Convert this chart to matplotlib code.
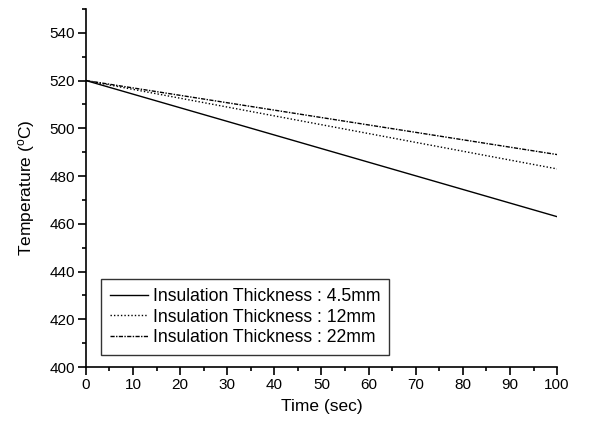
import matplotlib
matplotlib.use("Agg")
import matplotlib.pyplot as plt
from matplotlib.ticker import MultipleLocator

plt.rcParams['font.family'] = ['Liberation Sans', 'DejaVu Sans']
plt.rcParams['mathtext.default'] = 'regular'

time = [0, 20, 40, 60, 80, 100]
t_45mm = [520, 508.6, 497.2, 485.8, 474.4, 463]
t_12mm = [520, 512.6, 505.2, 497.8, 490.4, 483]
t_22mm = [520, 513.8, 507.6, 501.4, 495.2, 489]
labels = ["Insulation Thickness : 4.5mm",
          "Insulation Thickness : 12mm",
          "Insulation Thickness : 22mm"]

fig = plt.figure(figsize=(5.92, 4.22), dpi=100)
ax = fig.add_axes([0.145, 0.130, 0.796, 0.849])

ax.plot(time, t_45mm, color='black', lw=1.0, ls='-', label=labels[0])
ax.plot(time, t_12mm, color='black', lw=1.0, ls=(0, (1, 1.5)), label=labels[1])
ax.plot(time, t_22mm, color='black', lw=1.0, ls=(0, (3, 1, 1, 1)), label=labels[2])

ax.set_xlim(0, 100)
ax.set_ylim(400, 550)
ax.xaxis.set_major_locator(MultipleLocator(10))
ax.xaxis.set_minor_locator(MultipleLocator(5))
ax.yaxis.set_major_locator(MultipleLocator(20))
ax.yaxis.set_minor_locator(MultipleLocator(10))
ax.set_yticks(range(400, 541, 20))
ax.spines['top'].set_visible(False)
ax.spines['right'].set_visible(False)
for s in ['left', 'bottom']:
    ax.spines[s].set_linewidth(1.2)
ax.tick_params(which='major', direction='out', length=5.5, width=1.2, labelsize=11, pad=2.5)
ax.tick_params(which='minor', direction='out', length=2.8, width=1.2)

ax.set_xlabel("Time (sec)", fontsize=12.5, labelpad=5)
ax.set_ylabel("Temperature ($^{o}$C)", fontsize=12.5, labelpad=9)

leg = ax.legend(loc='lower left', bbox_to_anchor=(0.032, 0.034), borderaxespad=0,
                fontsize=12.7, frameon=True, fancybox=False, edgecolor='black',
                handlelength=2.15, handletextpad=0.3, labelspacing=0.2,
                borderpad=0.5)
leg.get_frame().set_linewidth(1.0)

fig.savefig("out.png", dpi=100)
